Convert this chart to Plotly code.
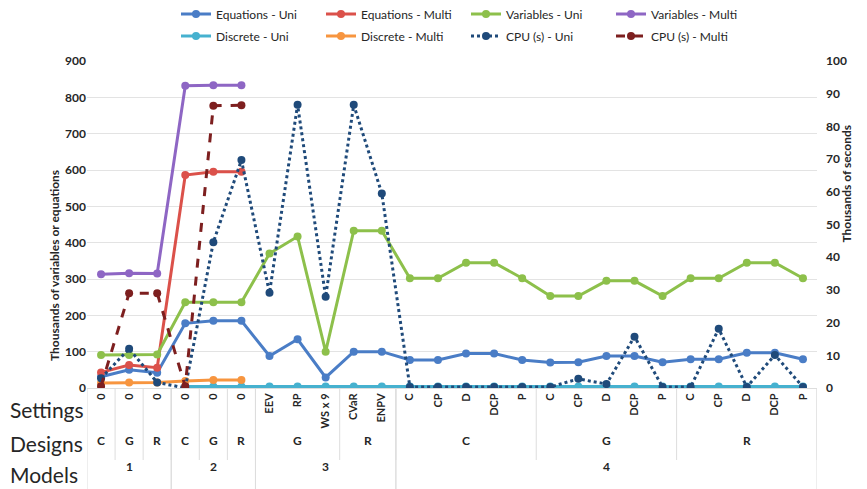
import plotly.graph_objects as go

# ---------------- data ----------------
settings = ["0", "0", "0", "0", "0", "0",
            "EEV", "RP", "WS x 9", "CVaR", "ENPV",
            "C", "CP", "D", "DCP", "P",
            "C", "CP", "D", "DCP", "P",
            "C", "CP", "D", "DCP", "P"]
designs = ["C", "G", "R", "C", "G", "R",
           "G", "G", "G", "R", "R",
           "C", "C", "C", "C", "C",
           "G", "G", "G", "G", "G",
           "R", "R", "R", "R", "R"]
models = ["1", "1", "1", "2", "2", "2",
          "3", "3", "3", "3", "3",
          "4", "4", "4", "4", "4", "4", "4", "4", "4", "4", "4", "4", "4", "4", "4"]

N = None
equations_uni = [31, 50, 42, 178, 185, 185, 88, 134, 29, 100, 100,
                 77, 77, 95, 95, 77, 70, 71, 88, 88, 71, 79, 79, 97, 97, 79]
equations_multi = [43, 63, 56, 586, 595, 595] + [N] * 20
variables_uni = [91, 91, 92, 236, 236, 236, 370, 417, 100, 433, 433,
                 302, 302, 345, 345, 302, 253, 253, 295, 295, 253, 302, 302, 345, 345, 302]
variables_multi = [313, 316, 315, 832, 833, 833] + [N] * 20
discrete_uni = [N, N, N] + [4] * 23
discrete_multi = [14, 15, 15, 19, 22, 22] + [N] * 20
cpu_uni = [3, 12, 1.7, 0, 44.6, 69.7, 29.1, 86.6, 27.9, 86.6, 59.5,
           0.3, 0.3, 0.3, 0.3, 0.3, 0.3, 2.8, 1.2, 15.7, 0.3, 0.3, 18.1, 0.3, 10.1, 0.3]
cpu_multi = [0.5, 29, 29, 0.5, 86.3, 86.5] + [N] * 20

left_ticks = list(range(0, 901, 100))
right_ticks = list(range(0, 101, 10))

# ---------------- figure ----------------
FONT = "Lato"
TXT = "#262626"
x = list(range(len(settings)))

series = [
    ("Equations - Uni", equations_uni, "#4A7DC6", "solid", "y", "legend"),
    ("Equations - Multi", equations_multi, "#DB514A", "solid", "y", "legend"),
    ("Variables - Uni", variables_uni, "#8DC04B", "solid", "y", "legend"),
    ("Variables - Multi", variables_multi, "#8E66C4", "solid", "y", "legend"),
    ("Discrete - Uni", discrete_uni, "#46B1CF", "solid", "y", "legend2"),
    ("Discrete - Multi", discrete_multi, "#F7953F", "solid", "y", "legend2"),
    ("CPU (s) - Uni", cpu_uni, "#1F4A7A", "dot", "y2", "legend2"),
    ("CPU (s) - Multi", cpu_multi, "#7D1F1F", "dash", "y2", "legend2"),
]

fig = go.Figure()
for name, vals, col, dash, yax, leg in series:
    fig.add_trace(go.Scatter(
        x=x, y=vals, name=name, mode="lines+markers", yaxis=yax, legend=leg,
        line=dict(color=col, width=3, dash=dash),
        marker=dict(color=col, size=8),
        connectgaps=False,
    ))

# page has an 8px body margin: work in page pixels, convert to figure pixels
OFF = 8
FW, FH = 867 - OFF, 489 - OFF
PLOT_T, PLOT_B = 61 - OFF, 388 - OFF
L, R = 87 - OFF, 817 - OFF
H = PLOT_B - PLOT_T
W = R - L
def py(page_px):
    return (PLOT_B - (page_px - OFF)) / H
def pxx(page_px):
    return ((page_px - OFF) - L) / W

shapes = []
annotations = []
# design groups
groups = []
start = 0
for i in range(1, len(x) + 1):
    if i == len(x) or (models[i], designs[i]) != (models[start], designs[start]):
        groups.append((start, i - 1, designs[start]))
        start = i
for s, e, lab in groups:
    annotations.append(dict(x=(s + e) / 2, y=py(450), xref="x", yref="paper",
                            text=lab, showarrow=False,
                            font=dict(family=FONT, size=12, color=TXT, weight="bold")))
    shapes.append(dict(type="line", xref="x", yref="paper", x0=e + 0.5, x1=e + 0.5,
                       y0=0, y1=py(460), line=dict(color="#DDDDDD", width=1)))
# model groups
mgroups = []
start = 0
for i in range(1, len(x) + 1):
    if i == len(x) or models[i] != models[start]:
        mgroups.append((start, i - 1, models[start]))
        start = i
for s, e, lab in mgroups:
    annotations.append(dict(x=(s + e) / 2, y=py(476), xref="x", yref="paper",
                            text=lab, showarrow=False,
                            font=dict(family=FONT, size=12, color=TXT, weight="bold")))
    for xb in (s - 0.5, e + 0.5):
        shapes.append(dict(type="line", xref="x", yref="paper", x0=xb, x1=xb,
                           y0=0, y1=py(489), line=dict(color="#DDDDDD", width=1)))

for lab, ypx in (("Settings", 409), ("Designs", 443), ("Models", 474)):
    annotations.append(dict(x=pxx(OFF), y=py(ypx), xref="paper", yref="paper",
                            text=lab, showarrow=False, xanchor="left", yanchor="middle",
                            font=dict(family=FONT, size=21, color=TXT)))

# axis titles
annotations.append(dict(x=pxx(45), y=py(168), xref="paper", yref="paper",
                        text="Thousands of variables or equations", textangle=-90,
                        showarrow=False,
                        font=dict(family=FONT, size=12, color=TXT, weight="bold")))
annotations.append(dict(x=pxx(855), y=py(122), xref="paper", yref="paper",
                        text="Thousands of seconds", textangle=-90, showarrow=False,
                        font=dict(family=FONT, size=12, color=TXT, weight="bold")))

leg_common = dict(orientation="h", xanchor="left", yanchor="middle",
                  bgcolor="rgba(0,0,0,0)", itemwidth=30, entrywidth=100,
                  traceorder="normal", font=dict(family=FONT, size=12, color=TXT))

fig.update_layout(
    width=FW, height=FH,
    margin=dict(l=L, r=FW - R, t=PLOT_T, b=FH - PLOT_B, autoexpand=False),
    paper_bgcolor="white", plot_bgcolor="white",
    font=dict(family=FONT, color=TXT),
    xaxis=dict(range=[-0.5, len(x) - 0.5], tickvals=x, ticktext=settings,
               tickangle=-90, showgrid=False, zeroline=False,
               showline=True, linecolor="#DDDDDD", ticks="",
               tickfont=dict(family=FONT, size=11, color=TXT, weight="bold")),
    yaxis=dict(range=[0, 900], tickvals=left_ticks, showgrid=True,
               gridcolor="#E3E3E3", gridwidth=1, zeroline=False,
               tickfont=dict(family=FONT, size=12, color=TXT, weight="bold")),
    yaxis2=dict(range=[0, 100], tickvals=right_ticks, overlaying="y", side="right",
                showgrid=False, zeroline=False, ticklabelstandoff=8,
                tickfont=dict(family=FONT, size=12, color=TXT, weight="bold")),
    legend=dict(x=pxx(176), y=py(14), **leg_common),
    legend2=dict(x=pxx(176), y=py(36), **leg_common),
    shapes=shapes,
    annotations=annotations,
    showlegend=True,
)

fig.write_html("out.html")
